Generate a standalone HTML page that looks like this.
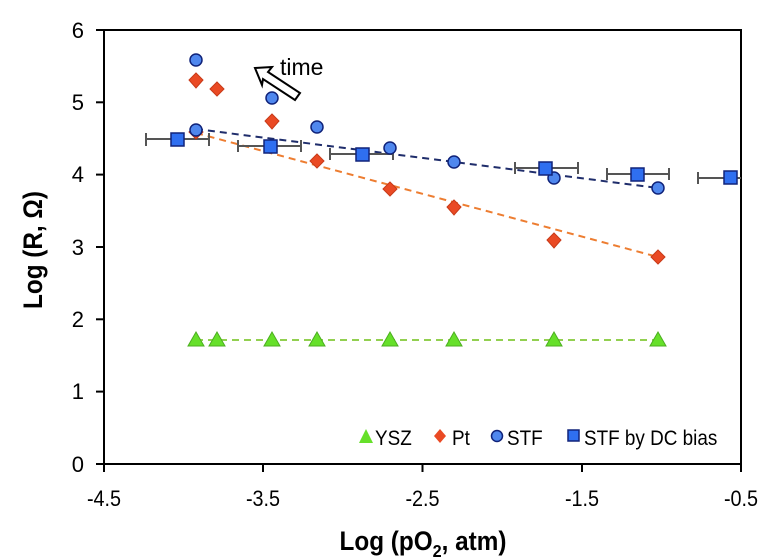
<!DOCTYPE html>
<html><head><style>body{margin:0;background:#fff}svg{display:block}text{font-family:"Liberation Sans",sans-serif}</style></head><body>
<svg width="777" height="560" viewBox="0 0 777 560" xmlns="http://www.w3.org/2000/svg">
<rect x="104" y="30" width="637" height="434" fill="none" stroke="#000" stroke-width="2"/>
<g stroke="#000" stroke-width="2">
<line x1="96" y1="30" x2="104" y2="30"/><line x1="96" y1="102.3" x2="104" y2="102.3"/><line x1="96" y1="174.6" x2="104" y2="174.6"/><line x1="96" y1="247" x2="104" y2="247"/><line x1="96" y1="319.3" x2="104" y2="319.3"/><line x1="96" y1="391.6" x2="104" y2="391.6"/><line x1="96" y1="464" x2="104" y2="464"/>
<line x1="104" y1="464" x2="104" y2="472"/><line x1="263" y1="464" x2="263" y2="472"/><line x1="422.5" y1="464" x2="422.5" y2="472"/><line x1="582" y1="464" x2="582" y2="472"/><line x1="741" y1="464" x2="741" y2="472"/>
</g>
<g font-size="22" text-anchor="end" fill="#000">
<text x="84" y="38">6</text><text x="84" y="110">5</text><text x="84" y="182">4</text><text x="84" y="255">3</text><text x="84" y="327">2</text><text x="84" y="399">1</text><text x="84" y="472">0</text>
</g>
<g font-size="22" text-anchor="middle">
<text x="104" y="506" transform="translate(104 0) scale(0.9 1) translate(-104 0)">-4.5</text>
<text x="263" y="506" transform="translate(263 0) scale(0.9 1) translate(-263 0)">-3.5</text>
<text x="422.5" y="506" transform="translate(422.5 0) scale(0.9 1) translate(-422.5 0)">-2.5</text>
<text x="582" y="506" transform="translate(582 0) scale(0.9 1) translate(-582 0)">-1.5</text>
<text x="741" y="506" transform="translate(741 0) scale(0.9 1) translate(-741 0)">-0.5</text>
</g>
<text x="423" y="550" font-size="27" font-weight="bold" text-anchor="middle" transform="translate(423 0) scale(0.9 1) translate(-423 0)">Log (pO<tspan font-size="18" dy="7">2</tspan><tspan dy="-7">, atm)</tspan></text>
<text transform="translate(42,250) rotate(-90) scale(0.9 1)" font-size="27" font-weight="bold" text-anchor="middle">Log (R, Ω)</text>
<!-- fit lines -->
<line x1="196" y1="340" x2="658" y2="340" stroke="#92d050" stroke-width="2" stroke-dasharray="7,5"/>
<line x1="196" y1="133" x2="658" y2="257" stroke="#ed7d31" stroke-width="2" stroke-dasharray="7,5"/>
<line x1="196" y1="129" x2="658" y2="188" stroke="#1f2d6b" stroke-width="2" stroke-dasharray="7,5"/>
<!-- error bars -->
<g stroke="#555" stroke-width="2">
<line x1="146" y1="139" x2="209" y2="139"/><line x1="146" y1="133" x2="146" y2="146"/><line x1="209" y1="133" x2="209" y2="146"/>
<line x1="238" y1="146" x2="301" y2="146"/><line x1="238" y1="140" x2="238" y2="152"/><line x1="301" y1="140" x2="301" y2="152"/>
<line x1="330" y1="154" x2="393" y2="154"/><line x1="330" y1="148" x2="330" y2="160"/><line x1="393" y1="148" x2="393" y2="160"/>
<line x1="515" y1="168" x2="578" y2="168"/><line x1="515" y1="162" x2="515" y2="174"/><line x1="578" y1="162" x2="578" y2="174"/>
<line x1="607" y1="174" x2="669" y2="174"/><line x1="607" y1="168" x2="607" y2="180"/><line x1="669" y1="168" x2="669" y2="180"/>
<line x1="698" y1="178" x2="741" y2="178"/><line x1="698" y1="172" x2="698" y2="184"/>
</g>
<!-- triangles -->
<g fill="#66e02a" stroke="#4caf20" stroke-width="1">
<polygon points="196,332 188,346 204,346"/><polygon points="217,332 209,346 225,346"/><polygon points="272,332 264,346 280,346"/><polygon points="317,332 309,346 325,346"/><polygon points="390,332 382,346 398,346"/><polygon points="454,332 446,346 462,346"/><polygon points="554,332 546,346 562,346"/><polygon points="658,332 650,346 666,346"/>
</g>
<!-- diamonds -->
<g fill="#ea4a24" stroke="#c83a18" stroke-width="1">
<polygon points="196,125 203,132 196,139 189,132"/>
<polygon points="196,73 203,80 196,88 189,80"/><polygon points="217,82 224,89 217,96 210,89"/><polygon points="272,114 279,121 272,129 265,121"/><polygon points="317,154 324,161 317,168 310,161"/><polygon points="390,182 397,189 390,196 383,189"/><polygon points="454,200 461,207 454,215 447,207"/><polygon points="554,233 561,240 554,248 547,240"/><polygon points="658,250 665,257 658,264 651,257"/>
</g>
<!-- circles -->
<g fill="#4f87ee" stroke="#10237a" stroke-width="1.5">
<circle cx="196" cy="60" r="6"/><circle cx="272" cy="98" r="6"/><circle cx="196" cy="130" r="6"/><circle cx="317" cy="127" r="6"/><circle cx="390" cy="148" r="6"/><circle cx="454" cy="162" r="6"/><circle cx="554" cy="178" r="6"/><circle cx="658" cy="188" r="6"/>
</g>
<!-- squares -->
<g fill="#2f6ff0" stroke="#10237a" stroke-width="1.5">
<rect x="171" y="133" width="13" height="13"/><rect x="264" y="140" width="13" height="13"/><rect x="356" y="148" width="13" height="13"/><rect x="539" y="162" width="13" height="13"/><rect x="631" y="168" width="13" height="13"/><rect x="724" y="171" width="13" height="13"/>
</g>
<!-- time arrow -->
<polygon points="255,68 272,67 268,72 300,93 295,100 263,79 262,85" fill="#fff" stroke="#000" stroke-width="2" stroke-linejoin="miter"/>
<text x="280" y="75" font-size="23">time</text>
<!-- legend -->
<polygon points="366,429 359,443 373,443" fill="#66e02a"/>
<text x="375" y="445" font-size="21" transform="translate(375 0) scale(0.9 1) translate(-375 0)">YSZ</text>
<polygon points="440,429 446,436 440,443 434,436" fill="#ea4a24"/>
<text x="452" y="445" font-size="21" transform="translate(452 0) scale(0.9 1) translate(-452 0)">Pt</text>
<circle cx="497" cy="436" r="5.5" fill="#4f87ee" stroke="#10237a" stroke-width="1.5"/>
<text x="507" y="445" font-size="21" transform="translate(507 0) scale(0.9 1) translate(-507 0)">STF</text>
<rect x="568" y="430" width="11" height="11" fill="#2f6ff0" stroke="#10237a" stroke-width="1.5"/>
<text x="584" y="445" font-size="21" transform="translate(584 0) scale(0.9 1) translate(-584 0)">STF by DC bias</text>
</svg>
</body></html>
